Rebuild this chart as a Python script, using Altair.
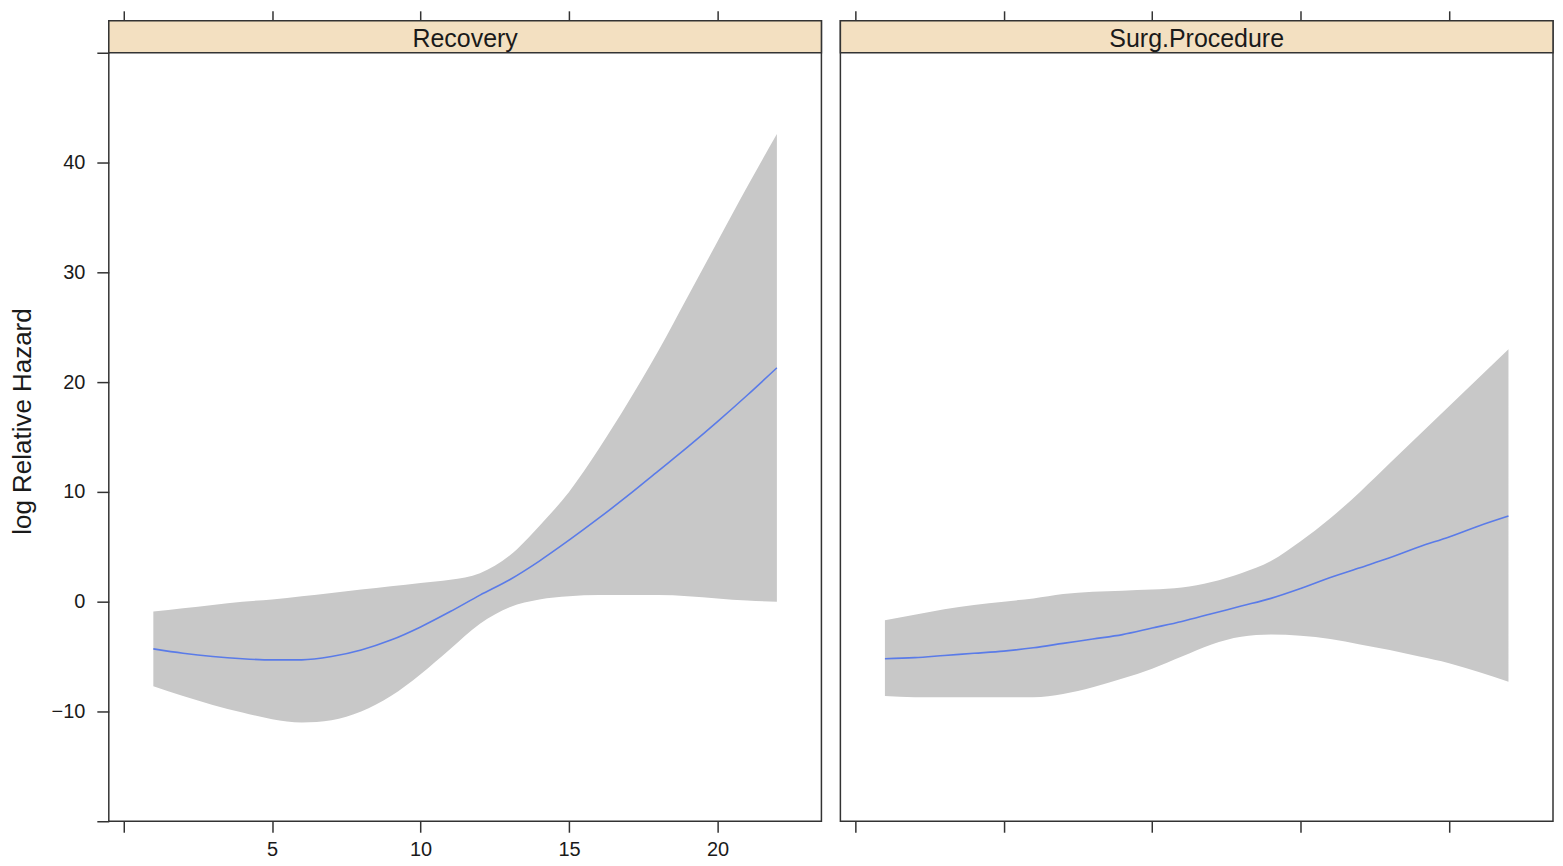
import altair as alt
import pandas as pd

# ---- data ----
xs = list(range(1, 23))

rec_fit = [-4.3, -4.7, -5.0, -5.2, -5.3, -5.3, -5.0, -4.4, -3.5, -2.3, -0.9,
           0.6, 2.0, 3.7, 5.6, 7.6, 9.7, 11.9, 14.1, 16.4, 18.8, 21.3]
rec_hi = [-0.9, -0.6, -0.3, 0.0, 0.2, 0.5, 0.8, 1.1, 1.4, 1.7, 2.0,
          2.6, 4.2, 6.9, 10.0, 13.9, 18.2, 22.8, 27.8, 32.8, 37.8, 42.6]
rec_lo = [-7.7, -8.6, -9.4, -10.1, -10.7, -11.0, -10.8, -10.0, -8.6, -6.6, -4.3,
          -2.0, -0.5, 0.2, 0.5, 0.6, 0.6, 0.6, 0.5, 0.3, 0.1, 0.0]

surg_fit = [-5.2, -5.1, -4.9, -4.7, -4.5, -4.2, -3.8, -3.4, -3.0, -2.4, -1.8,
            -1.1, -0.4, 0.3, 1.2, 2.2, 3.1, 4.0, 5.0, 5.9, 6.9, 7.8]
surg_hi = [-1.7, -1.2, -0.7, -0.3, 0.0, 0.3, 0.7, 0.9, 1.0, 1.1, 1.3,
           1.8, 2.6, 3.7, 5.5, 7.6, 10.0, 12.6, 15.2, 17.8, 20.4, 23.0]
surg_lo = [-8.6, -8.7, -8.7, -8.7, -8.7, -8.7, -8.4, -7.8, -7.0, -6.1, -5.0,
           -3.9, -3.2, -3.0, -3.1, -3.4, -3.9, -4.4, -5.0, -5.6, -6.4, -7.3]

panels = ["Recovery", "Surg.Procedure"]
x_ticks = [0, 5, 10, 15, 20]
y_ticks = [-20, -10, 0, 10, 20, 30, 40, 50]

W, H = 714, 802
Y_TOP = 50 + 32 / 11.0
FONT = "Liberation Sans"

x_scale = alt.Scale(domain=[-0.5, 23.5], nice=False, zero=False)
y_scale = alt.Scale(domain=[-20, Y_TOP], nice=False, zero=False)


def panel(name, fit, lo, hi, first):
    df = pd.DataFrame({"x": xs, "fit": fit, "lo": lo, "hi": hi})
    base = alt.Chart(df)

    bottom_axis = alt.Axis(orient="bottom", values=x_ticks, title=None,
                           labels=first, labelExpr="datum.value == 0 ? '' : datum.label",
                           tickSize=11, labelPadding=7, domain=False, grid=False)
    top_axis = alt.Axis(orient="top", values=x_ticks, title=None, labels=False,
                        tickSize=10, domain=False, grid=False)
    if first:
        y_axis = alt.Axis(values=y_ticks, title="log Relative Hazard",
                          labelExpr="(datum.value == -20 || datum.value == 50) ? '' : datum.label",
                          tickSize=12, labelPadding=12, titlePadding=16, domain=False, grid=False)
    else:
        y_axis = None

    band = base.mark_area(color="#c8c8c8", interpolate="monotone").encode(
        x=alt.X("x:Q", scale=x_scale, axis=bottom_axis),
        y=alt.Y("lo:Q", scale=y_scale, axis=y_axis),
        y2="hi:Q",
    )
    line = base.mark_line(color="#5a7be8", strokeWidth=1.6, interpolate="monotone").encode(
        x=alt.X("x:Q", scale=x_scale, axis=top_axis),
        y=alt.Y("fit:Q", scale=y_scale),
    )
    strip_df = pd.DataFrame({"t": [name]})
    strip = alt.Chart(strip_df).mark_rect(fill="#f3e0c1", stroke="#333333", strokeWidth=1.5).encode(
        x=alt.value(0), x2=alt.value(W),
        y=alt.datum(50), y2=alt.datum(Y_TOP),
    )
    label = alt.Chart(strip_df).mark_text(font=FONT, fontSize=25, color="#1a1a1a",
                                          baseline="middle", dy=2).encode(
        x=alt.value(W / 2),
        y=alt.datum((50 + Y_TOP) / 2),
        text="t:N",
    )
    return alt.layer(band, line, strip, label).resolve_axis(x="independent").properties(
        width=W, height=H)


left = panel(panels[0], rec_fit, rec_lo, rec_hi, True)
right = panel(panels[1], surg_fit, surg_lo, surg_hi, False)

chart = alt.hconcat(left, right, spacing=15).properties(
    padding={"left": 0, "top": 0, "right": 0, "bottom": 0},
    background="white",
).configure_view(
    stroke="#333333", strokeWidth=1.5
).configure_axis(
    labelFont=FONT, labelFontSize=20, labelColor="#1a1a1a",
    titleFont=FONT, titleFontSize=26, titleFontWeight="normal", titleColor="#1a1a1a",
    tickColor="#333333", tickWidth=1.5,
)

chart.save("out.html", embed_options={"renderer": "svg", "actions": False})
